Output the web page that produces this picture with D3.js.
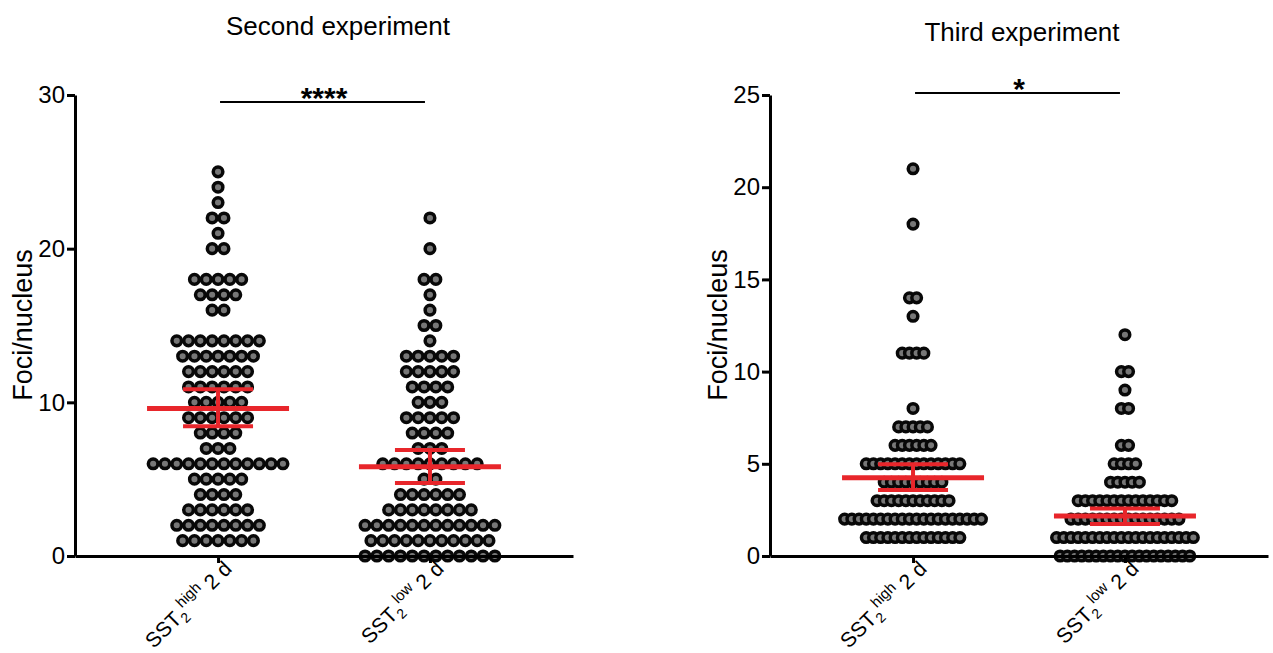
<!DOCTYPE html>
<html>
<head>
<meta charset="utf-8">
<script src="https://cdn.jsdelivr.net/npm/d3@7.9.0/dist/d3.min.js"></script>
<style>
  body { margin: 0; background: #fff; }
  svg { display: block; font-family: "Liberation Sans", Arial, sans-serif; }
</style>
</head>
<body>
<svg id="chart" width="1273" height="653"></svg>
<script>
const groups = ['high', 'low'];

// second experiment: [foci per nucleus, number of nuclei in that row]
const secondHigh = [[25,1],[24,1],[23,1],[22,2],[21,1],[20,2],[18,5],[17,4],[16,2],
  [14,8],[13,7],[12,6],[11,6],[10,5],[9,6],[8,4],[7,3],[6,12],[5,5],[4,4],[3,6],[2,8],[1,7]];
const secondLow = [[22,1],[20,1],[18,2],[17,1],[16,1],[15,2],[14,1],[13,5],[12,5],[11,4],
  [10,3],[9,5],[8,4],[7,3],[6,9],[5,2],[4,6],[3,8],[2,12],[1,11],[0,12]];
const secondMean = [9.6, 5.8];
const secondCI = [[8.45, 10.85], [4.75, 6.9]];
const secondTicks = [0, 10, 20, 30];

// third experiment
const thirdHigh = [[21,1],[18,1],[14,2],[13,1],[11,4],[8,1],[7,5],[6,6],[5,14],[4,9],
  [3,11],[2,20],[1,14]];
const thirdLow = [[12,1],[10,2],[9,1],[8,2],[6,2],[5,4],[4,5],[3,14],[2,16],[1,20],[0,19]];
const thirdMean = [4.25, 2.17];
const thirdCI = [[3.58, 4.97], [1.73, 2.58]];
const thirdTicks = [0, 5, 10, 15, 20, 25];

const svg = d3.select('#chart');
const red = '#e8262b';

function drawPanel(opt) {
  const g = svg.append('g');
  const y = d3.scaleLinear().domain([0, opt.yMax]).range([556, 95]);
  const x = d3.scalePoint().domain(groups).range([opt.x0, opt.x1]).padding(0.675);

  // dots, centred row by row
  opt.series.forEach((rows, gi) => {
    const cx = x(groups[gi]);
    const pts = [];
    rows.forEach(([v, n]) => {
      for (let i = 0; i < n; i++) pts.push({ v, dx: (i - (n - 1) / 2) * opt.step });
    });
    g.selectAll(null).data(pts).join('circle')
      .attr('cx', d => cx + d.dx)
      .attr('cy', d => y(d.v))
      .attr('r', 4.8)
      .attr('fill', '#777')
      .attr('stroke', '#080808')
      .attr('stroke-width', 3.5);
  });

  // mean and error bars
  groups.forEach((k, gi) => {
    const cx = x(k);
    const [lo, hi] = opt.ci[gi];
    g.append('line').attr('x1', cx).attr('x2', cx).attr('y1', y(lo)).attr('y2', y(hi))
      .attr('stroke', red).attr('stroke-width', 4);
    [lo, hi].forEach(v => {
      g.append('line').attr('x1', cx - 35).attr('x2', cx + 35).attr('y1', y(v)).attr('y2', y(v))
        .attr('stroke', red).attr('stroke-width', 4);
    });
    g.append('line').attr('x1', cx - 71).attr('x2', cx + 71)
      .attr('y1', y(opt.mean[gi])).attr('y2', y(opt.mean[gi]))
      .attr('stroke', red).attr('stroke-width', 5);
  });

  // axes
  const ya = g.append('g').attr('transform', `translate(${opt.x0},0)`)
    .call(d3.axisLeft(y).tickValues(opt.ticks).tickSize(8).tickSizeOuter(0).tickPadding(2));
  const xa = g.append('g').attr('transform', 'translate(0,556)')
    .call(d3.axisBottom(x).tickSize(7).tickSizeOuter(0).tickFormat(''));
  [ya, xa].forEach(a => {
    a.select('.domain').attr('stroke', '#000').attr('stroke-width', 3);
    a.selectAll('.tick line').attr('stroke', '#000').attr('stroke-width', 3);
  });
  ya.selectAll('.tick text').attr('font-size', 24).attr('fill', '#000')
    .attr('font-family', '"Liberation Sans", Arial, sans-serif');

  // rotated group labels
  groups.forEach(k => {
    const t = g.append('text')
      .attr('transform', `translate(${x(k) + 15},570) rotate(-45)`)
      .attr('text-anchor', 'end').attr('font-size', 21);
    t.append('tspan').text('SST');
    t.append('tspan').attr('font-size', 14).attr('dy', 5).text('2');
    t.append('tspan').attr('font-size', 15).attr('dy', -14).text(k);
    t.append('tspan').attr('dy', 9).text(' 2 d');
  });

  // title and axis label
  g.append('text').attr('x', opt.titleX).attr('y', opt.titleY).attr('text-anchor', 'middle')
    .attr('font-size', 26).text(opt.title);
  g.append('text').attr('transform', `translate(${opt.labelX},325) rotate(-90)`)
    .attr('text-anchor', 'middle').attr('font-size', 27).text('Foci/nucleus');

  // significance bracket
  const sy = opt.sigY;
  g.append('line').attr('x1', x('high') + 2).attr('x2', x('low') - 5)
    .attr('y1', sy).attr('y2', sy).attr('stroke', '#000').attr('stroke-width', 2);
  g.append('text').attr('x', (x('high') + x('low')) / 2).attr('y', sy + 6)
    .attr('text-anchor', 'middle').attr('font-size', 30).attr('font-weight', 'bold')
    .text(opt.stars);
}

drawPanel({
  series: [secondHigh, secondLow], mean: secondMean, ci: secondCI, ticks: secondTicks,
  yMax: 30, x0: 75, x1: 573, step: 11.8,
  title: 'Second experiment', titleX: 338, titleY: 35, labelX: 32, sigY: 102, stars: '****'
});
drawPanel({
  series: [thirdHigh, thirdLow], mean: thirdMean, ci: thirdCI, ticks: thirdTicks,
  yMax: 25, x0: 770, x1: 1268, step: 7.2,
  title: 'Third experiment', titleX: 1022, titleY: 41, labelX: 727, sigY: 93, stars: '*'
});
</script>
</body>
</html>
